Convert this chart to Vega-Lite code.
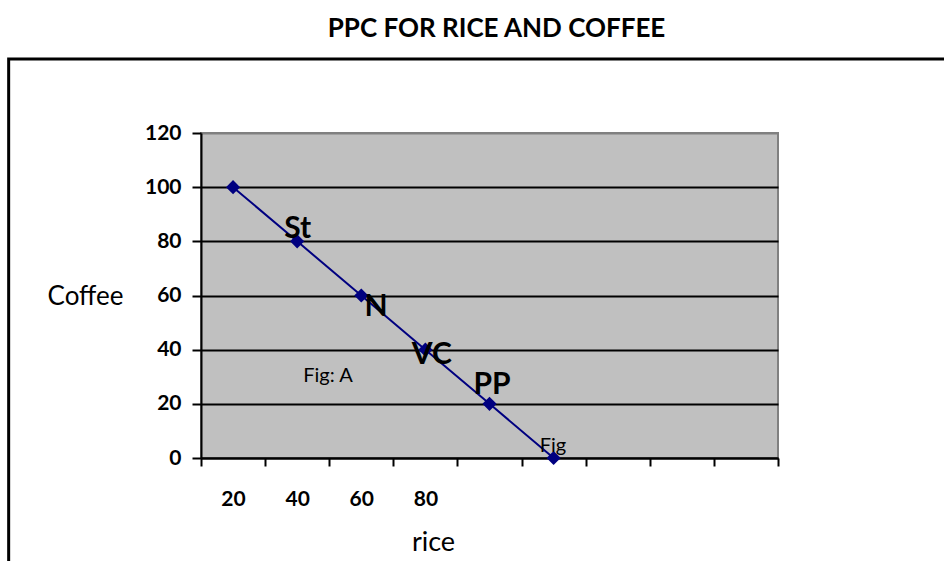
{
  "$schema": "https://vega.github.io/schema/vega-lite/v6.json",
  "width": 577,
  "height": 325,
  "autosize": {"type": "none"},
  "padding": {"left": 201, "top": 133, "right": 166, "bottom": 103},
  "background": "white",
  "title": {"text": "PPC FOR RICE AND COFFEE", "frame": "group", "anchor": "middle", "offset": -5, "baseline": "alphabetic", "fontSize": 26, "fontWeight": "bold", "font": "Lato", "color": "black", "dx": 7},
  "datasets": {
    "series": [
      {"slot": 1, "rice": "20", "coffee": 100},
      {"slot": 2, "rice": "40", "coffee": 80},
      {"slot": 3, "rice": "60", "coffee": 60},
      {"slot": 4, "rice": "80", "coffee": 40},
      {"slot": 5, "rice": "", "coffee": 20},
      {"slot": 6, "rice": "", "coffee": 0}
    ],
    "boldNotes": [
      {"note": "St", "slot": 2.01, "coffee": 84.6},
      {"note": "N", "slot": 3.23, "coffee": 55.9},
      {"note": "VC", "slot": 4.10, "coffee": 38.2},
      {"note": "PP", "slot": 5.04, "coffee": 27.0}
    ],
    "plainNotes": [
      {"note": "Fig: A", "slot": 2.48, "coffee": 30.3},
      {"note": "Fig", "slot": 5.99, "coffee": 4.4}
    ],
    "frame": [
      {"slot": -2.5, "slot2": 13, "coffee": -60, "coffee2": 147.3}
    ]
  },
  "layer": [
    {
      "data": {"name": "series"},
      "mark": {"type": "line", "color": "#000080", "strokeWidth": 2},
      "encoding": {
        "x": {"field": "slot", "type": "quantitative", "scale": {"domain": [0.5, 9.5], "nice": false, "zero": false},
          "axis": {"orient": "bottom", "values": [0.5, 1.5, 2.5, 3.5, 4.5, 5.5, 6.5, 7.5, 8.5, 9.5], "labels": false, "title": null, "tickSize": 8, "tickWidth": 2, "tickColor": "black", "domainColor": "black", "domainWidth": 2, "grid": false}},
        "y": {"field": "coffee", "type": "quantitative", "scale": {"domain": [0, 120], "nice": false},
          "axis": {"orient": "left", "values": [0, 20, 40, 60, 80, 100, 120], "title": "Coffee", "titleAngle": 0, "titleX": -116, "titleY": 163, "titleAlign": "center", "titleBaseline": "middle", "titleFontSize": 26, "titleFontWeight": "normal", "titleColor": "black", "titleFont": "Lato", "labelFont": "Lato", "labelFontSize": 21, "labelFontWeight": "bold", "labelColor": "black", "labelPadding": 11, "tickSize": 9, "tickWidth": 2, "tickColor": "black", "domainColor": "black", "domainWidth": 2, "grid": true, "gridColor": {"condition": {"test": "datum.value == 120", "value": "#808080"}, "value": "black"}, "gridWidth": 2}}
      }
    },
    {
      "data": {"name": "series"},
      "mark": {"type": "point", "shape": "diamond", "filled": true, "color": "#000080", "size": 200, "opacity": 1},
      "encoding": {
        "x": {"field": "slot", "type": "quantitative", "scale": {"domain": [0.5, 9.5], "nice": false, "zero": false},
          "axis": {"orient": "bottom", "values": [1, 2, 3, 4], "labelExpr": "['','20','40','60','80'][datum.value]", "ticks": false, "tickSize": 0, "domain": false, "grid": false, "labelPadding": 30, "labelFont": "Lato", "labelFontSize": 21, "labelFontWeight": "bold", "labelColor": "black", "title": "rice", "titleX": 232, "titleY": 92, "titleBaseline": "alphabetic", "titleAlign": "center", "titleFont": "Lato", "titleFontSize": 27, "titleFontWeight": "normal", "titleColor": "black"}},
        "y": {"field": "coffee", "type": "quantitative"}
      }
    },
    {
      "data": {"name": "boldNotes"},
      "mark": {"type": "text", "font": "Lato", "fontSize": 30, "fontWeight": "bold", "color": "black", "baseline": "middle", "align": "center"},
      "encoding": {
        "x": {"field": "slot", "type": "quantitative", "axis": null},
        "y": {"field": "coffee", "type": "quantitative"},
        "text": {"field": "note"}
      }
    },
    {
      "data": {"name": "plainNotes"},
      "mark": {"type": "text", "font": "Lato", "fontSize": 20, "fontWeight": "normal", "color": "black", "baseline": "middle", "align": "center"},
      "encoding": {
        "x": {"field": "slot", "type": "quantitative", "axis": null},
        "y": {"field": "coffee", "type": "quantitative"},
        "text": {"field": "note"}
      }
    },
    {
      "data": {"name": "frame"},
      "mark": {"type": "rect", "filled": false, "stroke": "black", "strokeWidth": 3, "clip": false},
      "encoding": {
        "x": {"field": "slot", "type": "quantitative", "axis": null},
        "x2": {"field": "slot2"},
        "y": {"field": "coffee", "type": "quantitative"},
        "y2": {"field": "coffee2"}
      }
    }
  ],
  "resolve": {"axis": {"x": "independent", "y": "shared"}},
  "config": {
    "font": "Lato",
    "view": {"fill": "#C0C0C0", "stroke": "#808080", "strokeWidth": 2}
  }
}
